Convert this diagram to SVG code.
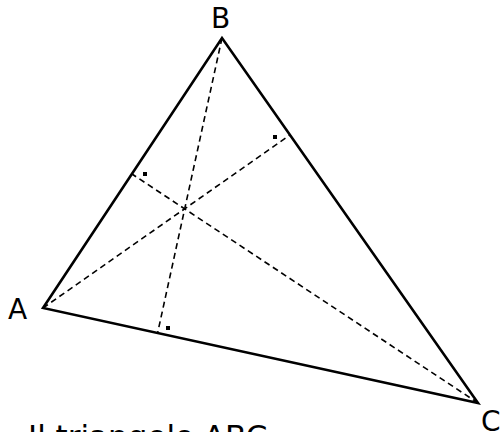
<svg xmlns="http://www.w3.org/2000/svg" width="502" height="432" viewBox="0 0 502 432">
<style>
.tri{fill:none;stroke:#000;stroke-width:2.6;stroke-linejoin:miter}
.alt{fill:none;stroke:#000;stroke-width:1.6;stroke-dasharray:6,4}
.lbl{font-family:"DejaVu Sans",sans-serif;font-size:28px;fill:#000}
.mk{fill:#000}
</style>
<rect width="502" height="432" fill="#fff"/>
<g id="triangle">
<polygon class="tri" points="43,308 222,38 478,403"/>
</g>
<g id="connectors">
<line class="alt" x1="43" y1="308" x2="290" y2="135"/>
<line class="alt" x1="222" y1="38" x2="157.6" y2="333"/>
<line class="alt" x1="478" y1="403" x2="132" y2="174"/>
</g>
<g id="right-angles">
<rect class="mk" x="143" y="172" width="4" height="4"/>
<rect class="mk" x="273" y="135" width="4" height="4"/>
<rect class="mk" x="166" y="326" width="4" height="4"/>
</g>
<g id="label-A"><text class="lbl" x="8" y="319">A</text></g>
<g id="label-B"><text class="lbl" x="211" y="28">B</text></g>
<g id="label-C"><text class="lbl" x="481" y="431">C</text></g>
<g id="caption"><text class="lbl" x="28" y="447" style="font-size:31px">Il triangolo ABC</text></g>
</svg>
